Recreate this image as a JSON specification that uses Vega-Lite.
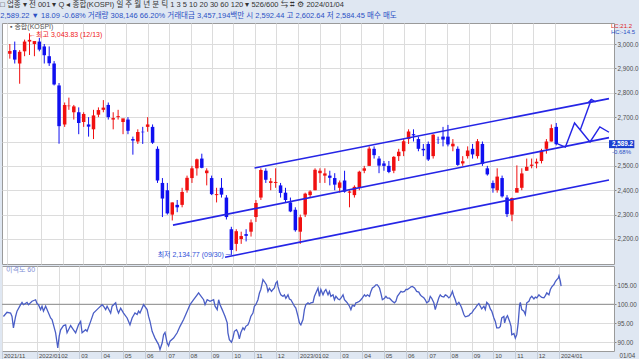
{
  "$schema": "https://vega.github.io/schema/vega-lite/v6.json",
  "background": "#dfe7f2",
  "padding": {"left": 0, "top": 1, "right": 0, "bottom": 0},
  "spacing": 0,
  "config": {
    "font": "Liberation Sans, 'Noto Sans CJK KR', sans-serif",
    "view": {"stroke": "#9a9a9a", "fill": "white"},
    "axis": {"labelFontSize": 6.3, "labelColor": "#505050", "gridColor": "#dcdcdc", "gridWidth": 1, "domain": false, "ticks": false, "title": null, "labelOverlap": false, "labelSeparation": 0, "labelBound": false, "labelFlush": false, "tickCount": 200}
  },
  "title": {
    "text": "□ 업종 ▾  전 001 ▾  Q ◂ 종합(KOSPI)   일  주  월  년  분  틱   1  3  5  10  20  30  60  120  ▾  526/600     ⇆  ⌗  ⚙  2024/01/04",
    "subtitle": "2,589.22 ▼    18.09   -0.68%  거래량        308,146   66.20%  거래대금     3,457,194백만  시  2,592.44  고  2,602.64  저  2,584.45   매수  매도",
    "anchor": "start",
    "fontSize": 7.5,
    "fontWeight": "normal",
    "color": "#333333",
    "subtitleFontSize": 7.5,
    "subtitleColor": "#2a4fc4",
    "subtitlePadding": 3,
    "offset": 3
  },
  "datasets": {
    "candles": [
      {"date":"2021-11-17","o":2960,"h":3000,"l":2940,"c":2971},
      {"date":"2021-11-24","o":2975,"h":3010,"l":2920,"c":2936},
      {"date":"2021-12-01","o":2920,"h":2975,"l":2837,"c":2968},
      {"date":"2021-12-08","o":2970,"h":3018,"l":2950,"c":3010},
      {"date":"2021-12-15","o":3010,"h":3043.83,"l":2955,"c":3017},
      {"date":"2021-12-22","o":3000,"h":3010,"l":2950,"c":3012},
      {"date":"2021-12-29","o":3010,"h":3025,"l":2970,"c":2977},
      {"date":"2022-01-05","o":2990,"h":3000,"l":2920,"c":2954},
      {"date":"2022-01-12","o":2950,"h":2990,"l":2910,"c":2921},
      {"date":"2022-01-19","o":2920,"h":2930,"l":2830,"c":2834},
      {"date":"2022-01-26","o":2830,"h":2840,"l":2591,"c":2663},
      {"date":"2022-02-03","o":2670,"h":2760,"l":2660,"c":2750},
      {"date":"2022-02-09","o":2745,"h":2780,"l":2730,"c":2747},
      {"date":"2022-02-16","o":2720,"h":2750,"l":2690,"c":2744},
      {"date":"2022-02-23","o":2720,"h":2740,"l":2630,"c":2676},
      {"date":"2022-03-02","o":2680,"h":2720,"l":2660,"c":2713},
      {"date":"2022-03-09","o":2670,"h":2700,"l":2620,"c":2661},
      {"date":"2022-03-16","o":2650,"h":2730,"l":2610,"c":2707},
      {"date":"2022-03-23","o":2710,"h":2740,"l":2700,"c":2729},
      {"date":"2022-03-30","o":2730,"h":2770,"l":2720,"c":2739},
      {"date":"2022-04-06","o":2750,"h":2760,"l":2690,"c":2700},
      {"date":"2022-04-13","o":2690,"h":2720,"l":2650,"c":2696},
      {"date":"2022-04-20","o":2700,"h":2730,"l":2690,"c":2704},
      {"date":"2022-04-27","o":2680,"h":2690,"l":2630,"c":2695},
      {"date":"2022-05-04","o":2690,"h":2700,"l":2630,"c":2644},
      {"date":"2022-05-11","o":2610,"h":2620,"l":2546,"c":2604},
      {"date":"2022-05-18","o":2600,"h":2650,"l":2590,"c":2639},
      {"date":"2022-05-25","o":2640,"h":2660,"l":2590,"c":2638},
      {"date":"2022-06-01","o":2660,"h":2700,"l":2640,"c":2670},
      {"date":"2022-06-08","o":2660,"h":2670,"l":2590,"c":2595},
      {"date":"2022-06-15","o":2570,"h":2580,"l":2430,"c":2440},
      {"date":"2022-06-22","o":2430,"h":2450,"l":2290,"c":2366},
      {"date":"2022-06-29","o":2400,"h":2430,"l":2300,"c":2305},
      {"date":"2022-07-06","o":2300,"h":2350,"l":2276,"c":2350},
      {"date":"2022-07-13","o":2340,"h":2360,"l":2310,"c":2330},
      {"date":"2022-07-20","o":2340,"h":2410,"l":2330,"c":2393},
      {"date":"2022-07-27","o":2400,"h":2460,"l":2390,"c":2451},
      {"date":"2022-08-03","o":2450,"h":2500,"l":2430,"c":2490},
      {"date":"2022-08-10","o":2490,"h":2530,"l":2460,"c":2527},
      {"date":"2022-08-17","o":2530,"h":2550,"l":2490,"c":2492},
      {"date":"2022-08-24","o":2470,"h":2490,"l":2420,"c":2481},
      {"date":"2022-08-31","o":2450,"h":2460,"l":2380,"c":2384},
      {"date":"2022-09-07","o":2380,"h":2410,"l":2350,"c":2384},
      {"date":"2022-09-14","o":2410,"h":2450,"l":2370,"c":2382},
      {"date":"2022-09-21","o":2370,"h":2380,"l":2280,"c":2290},
      {"date":"2022-09-28","o":2240,"h":2250,"l":2134.77,"c":2155},
      {"date":"2022-10-05","o":2180,"h":2240,"l":2150,"c":2232},
      {"date":"2022-10-12","o":2200,"h":2230,"l":2180,"c":2212},
      {"date":"2022-10-19","o":2220,"h":2240,"l":2190,"c":2213},
      {"date":"2022-10-26","o":2230,"h":2280,"l":2210,"c":2268},
      {"date":"2022-11-02","o":2290,"h":2360,"l":2270,"c":2348},
      {"date":"2022-11-09","o":2370,"h":2490,"l":2360,"c":2483},
      {"date":"2022-11-16","o":2480,"h":2490,"l":2430,"c":2443},
      {"date":"2022-11-23","o":2430,"h":2450,"l":2400,"c":2437},
      {"date":"2022-11-30","o":2430,"h":2490,"l":2410,"c":2434},
      {"date":"2022-12-07","o":2420,"h":2430,"l":2370,"c":2389},
      {"date":"2022-12-14","o":2390,"h":2410,"l":2350,"c":2360},
      {"date":"2022-12-21","o":2350,"h":2370,"l":2310,"c":2313},
      {"date":"2022-12-28","o":2320,"h":2330,"l":2230,"c":2236},
      {"date":"2023-01-04","o":2230,"h":2300,"l":2180,"c":2289},
      {"date":"2023-01-11","o":2300,"h":2390,"l":2290,"c":2386},
      {"date":"2023-01-18","o":2380,"h":2400,"l":2370,"c":2395},
      {"date":"2023-01-25","o":2400,"h":2490,"l":2400,"c":2484},
      {"date":"2023-02-01","o":2470,"h":2490,"l":2430,"c":2480},
      {"date":"2023-02-08","o":2460,"h":2490,"l":2430,"c":2469},
      {"date":"2023-02-15","o":2460,"h":2480,"l":2420,"c":2451},
      {"date":"2023-02-22","o":2450,"h":2470,"l":2400,"c":2423},
      {"date":"2023-03-01","o":2410,"h":2440,"l":2390,"c":2432},
      {"date":"2023-03-08","o":2440,"h":2480,"l":2390,"c":2394},
      {"date":"2023-03-15","o":2390,"h":2400,"l":2330,"c":2395},
      {"date":"2023-03-22","o":2380,"h":2420,"l":2370,"c":2414},
      {"date":"2023-03-29","o":2410,"h":2480,"l":2400,"c":2476},
      {"date":"2023-04-05","o":2480,"h":2500,"l":2470,"c":2490},
      {"date":"2023-04-12","o":2500,"h":2580,"l":2500,"c":2571},
      {"date":"2023-04-19","o":2570,"h":2580,"l":2530,"c":2544},
      {"date":"2023-04-26","o":2530,"h":2540,"l":2470,"c":2501},
      {"date":"2023-05-03","o":2510,"h":2520,"l":2480,"c":2500},
      {"date":"2023-05-10","o":2500,"h":2520,"l":2470,"c":2475},
      {"date":"2023-05-17","o":2480,"h":2540,"l":2470,"c":2537},
      {"date":"2023-05-24","o":2540,"h":2570,"l":2520,"c":2558},
      {"date":"2023-05-31","o":2560,"h":2610,"l":2540,"c":2601},
      {"date":"2023-06-07","o":2610,"h":2650,"l":2590,"c":2641},
      {"date":"2023-06-14","o":2630,"h":2650,"l":2600,"c":2625},
      {"date":"2023-06-21","o":2610,"h":2620,"l":2560,"c":2570},
      {"date":"2023-06-28","o":2570,"h":2590,"l":2540,"c":2564},
      {"date":"2023-07-05","o":2590,"h":2600,"l":2520,"c":2526},
      {"date":"2023-07-12","o":2540,"h":2630,"l":2530,"c":2628},
      {"date":"2023-07-19","o":2610,"h":2620,"l":2590,"c":2609},
      {"date":"2023-07-26","o":2620,"h":2660,"l":2580,"c":2608},
      {"date":"2023-08-02","o":2620,"h":2668,"l":2580,"c":2588},
      {"date":"2023-08-09","o":2580,"h":2610,"l":2560,"c":2591},
      {"date":"2023-08-16","o":2570,"h":2580,"l":2500,"c":2504},
      {"date":"2023-08-23","o":2510,"h":2540,"l":2500,"c":2519},
      {"date":"2023-08-30","o":2540,"h":2580,"l":2530,"c":2563},
      {"date":"2023-09-06","o":2570,"h":2590,"l":2530,"c":2547},
      {"date":"2023-09-13","o":2540,"h":2610,"l":2530,"c":2601},
      {"date":"2023-09-20","o":2590,"h":2600,"l":2500,"c":2508},
      {"date":"2023-09-27","o":2490,"h":2500,"l":2460,"c":2465},
      {"date":"2023-10-05","o":2430,"h":2440,"l":2390,"c":2408},
      {"date":"2023-10-11","o":2400,"h":2490,"l":2390,"c":2456},
      {"date":"2023-10-18","o":2450,"h":2460,"l":2370,"c":2375},
      {"date":"2023-10-25","o":2370,"h":2380,"l":2290,"c":2302},
      {"date":"2023-11-01","o":2300,"h":2370,"l":2273,"c":2368},
      {"date":"2023-11-08","o":2390,"h":2502,"l":2400,"c":2409},
      {"date":"2023-11-15","o":2410,"h":2490,"l":2400,"c":2469},
      {"date":"2023-11-22","o":2480,"h":2530,"l":2480,"c":2496},
      {"date":"2023-11-29","o":2500,"h":2530,"l":2490,"c":2505},
      {"date":"2023-12-06","o":2510,"h":2530,"l":2490,"c":2517},
      {"date":"2023-12-13","o":2520,"h":2570,"l":2510,"c":2563},
      {"date":"2023-12-20","o":2570,"h":2610,"l":2550,"c":2600},
      {"date":"2023-12-27","o":2600,"h":2670,"l":2600,"c":2655},
      {"date":"2024-01-03","o":2660,"h":2676,"l":2584,"c":2589}
    ],
    "channels": [
      {"id":"upper","date":"2022-10-31","price":2491},
      {"id":"upper","date":"2024-03-18","price":2776},
      {"id":"middle","date":"2022-07-07","price":2257},
      {"id":"middle","date":"2024-03-18","price":2616},
      {"id":"lower","date":"2022-09-19","price":2125},
      {"id":"lower","date":"2024-03-18","price":2442}
    ],
    "projection": [
      {"id":"a","date":"2024-01-05","price":2590},
      {"id":"a","date":"2024-01-16","price":2577},
      {"id":"a","date":"2024-01-29","price":2676},
      {"id":"a","date":"2024-02-20","price":2598},
      {"id":"a","date":"2024-03-05","price":2660},
      {"id":"a","date":"2024-03-18","price":2638},
      {"id":"b","date":"2024-02-06","price":2646},
      {"id":"b","date":"2024-02-22","price":2773},
      {"id":"c","date":"2024-02-17","price":2758},
      {"id":"c","date":"2024-02-22","price":2773},
      {"id":"c","date":"2024-02-28","price":2762}
    ],
    "ind": [
      {"date":"2021-11-15","v":96.8},{"date":"2021-11-20","v":97.9},{"date":"2021-11-25","v":97.7},{"date":"2021-11-27","v":96.8},
      {"date":"2021-11-29","v":93.8},{"date":"2021-12-02","v":96.8},{"date":"2021-12-04","v":98.2},{"date":"2021-12-09","v":99.9},
      {"date":"2021-12-11","v":100.5},{"date":"2021-12-13","v":99.9},{"date":"2021-12-18","v":100.5},{"date":"2021-12-20","v":99.9},
      {"date":"2021-12-25","v":100.8},{"date":"2021-12-30","v":101.2},{"date":"2022-01-01","v":100.2},{"date":"2022-01-03","v":99.9},
      {"date":"2022-01-06","v":98.6},{"date":"2022-01-08","v":99.5},{"date":"2022-01-10","v":98.2},{"date":"2022-01-13","v":99.5},
      {"date":"2022-01-15","v":98.6},{"date":"2022-01-20","v":96.4},{"date":"2022-01-22","v":96.0},{"date":"2022-01-24","v":94.6},
      {"date":"2022-01-27","v":92.5},{"date":"2022-01-30","v":88.5},{"date":"2022-02-01","v":91.6},{"date":"2022-02-03","v":93.3},
      {"date":"2022-02-07","v":94.4},{"date":"2022-02-10","v":94.6},{"date":"2022-02-12","v":92.5},{"date":"2022-02-17","v":94.4},
      {"date":"2022-02-21","v":93.3},{"date":"2022-02-24","v":92.5},{"date":"2022-02-28","v":94.6},{"date":"2022-03-03","v":95.5},
      {"date":"2022-03-05","v":92.5},{"date":"2022-03-10","v":93.3},{"date":"2022-03-12","v":92.9},{"date":"2022-03-17","v":95.5},
      {"date":"2022-03-21","v":97.7},{"date":"2022-03-28","v":99.0},{"date":"2022-04-02","v":99.9},{"date":"2022-04-04","v":99.5},
      {"date":"2022-04-07","v":98.6},{"date":"2022-04-09","v":99.5},{"date":"2022-04-14","v":97.7},{"date":"2022-04-16","v":99.5},
      {"date":"2022-04-21","v":100.4},{"date":"2022-04-23","v":98.6},{"date":"2022-04-25","v":97.7},{"date":"2022-04-28","v":99.0},
      {"date":"2022-05-02","v":97.7},{"date":"2022-05-07","v":96.4},{"date":"2022-05-11","v":94.6},{"date":"2022-05-14","v":96.4},
      {"date":"2022-05-18","v":97.7},{"date":"2022-05-21","v":97.3},{"date":"2022-05-23","v":98.2},{"date":"2022-05-25","v":97.7},
      {"date":"2022-05-30","v":99.9},{"date":"2022-06-04","v":98.6},{"date":"2022-06-06","v":96.8},{"date":"2022-06-08","v":95.5},
      {"date":"2022-06-11","v":92.9},{"date":"2022-06-13","v":92.0},{"date":"2022-06-15","v":91.1},{"date":"2022-06-20","v":89.4},
      {"date":"2022-06-22","v":88.1},{"date":"2022-06-25","v":89.8},{"date":"2022-06-27","v":92.0},{"date":"2022-06-29","v":92.6},
      {"date":"2022-07-02","v":89.8},{"date":"2022-07-04","v":89.1},{"date":"2022-07-06","v":90.3},{"date":"2022-07-11","v":91.1},
      {"date":"2022-07-16","v":92.5},{"date":"2022-07-20","v":94.2},{"date":"2022-07-25","v":96.0},{"date":"2022-07-30","v":98.2},
      {"date":"2022-08-03","v":99.9},{"date":"2022-08-08","v":101.2},{"date":"2022-08-13","v":102.5},{"date":"2022-08-15","v":103.0},
      {"date":"2022-08-17","v":102.5},{"date":"2022-08-22","v":101.2},{"date":"2022-08-24","v":99.9},{"date":"2022-08-27","v":101.2},
      {"date":"2022-08-31","v":100.8},{"date":"2022-09-05","v":101.2},{"date":"2022-09-07","v":99.5},{"date":"2022-09-10","v":98.6},
      {"date":"2022-09-12","v":101.2},{"date":"2022-09-14","v":99.9},{"date":"2022-09-17","v":98.6},{"date":"2022-09-19","v":97.7},
      {"date":"2022-09-21","v":96.8},{"date":"2022-09-24","v":95.1},{"date":"2022-09-25","v":92.5},{"date":"2022-09-27","v":90.7},
      {"date":"2022-09-30","v":90.0},{"date":"2022-10-02","v":91.1},{"date":"2022-10-04","v":92.9},{"date":"2022-10-07","v":93.3},
      {"date":"2022-10-09","v":92.5},{"date":"2022-10-11","v":90.9},{"date":"2022-10-13","v":92.5},{"date":"2022-10-16","v":93.8},
      {"date":"2022-10-18","v":93.3},{"date":"2022-10-20","v":94.2},{"date":"2022-10-23","v":94.6},{"date":"2022-10-25","v":95.5},
      {"date":"2022-10-27","v":96.8},{"date":"2022-10-30","v":97.7},{"date":"2022-11-01","v":99.5},{"date":"2022-11-03","v":99.9},
      {"date":"2022-11-06","v":101.2},{"date":"2022-11-08","v":102.9},{"date":"2022-11-10","v":103.9},{"date":"2022-11-12","v":105.6},
      {"date":"2022-11-13","v":106.5},{"date":"2022-11-15","v":106.0},{"date":"2022-11-18","v":105.1},{"date":"2022-11-20","v":103.4},
      {"date":"2022-11-22","v":104.2},{"date":"2022-11-25","v":103.4},{"date":"2022-11-27","v":103.9},{"date":"2022-11-29","v":104.3},
      {"date":"2022-12-01","v":105.6},{"date":"2022-12-03","v":106.0},{"date":"2022-12-04","v":104.7},{"date":"2022-12-06","v":103.4},
      {"date":"2022-12-08","v":102.5},{"date":"2022-12-11","v":102.1},{"date":"2022-12-13","v":102.5},{"date":"2022-12-15","v":101.6},
      {"date":"2022-12-18","v":102.5},{"date":"2022-12-20","v":101.4},{"date":"2022-12-22","v":101.2},{"date":"2022-12-25","v":100.2},
      {"date":"2022-12-27","v":99.5},{"date":"2022-12-29","v":99.0},{"date":"2023-01-01","v":96.8},{"date":"2023-01-03","v":95.1},
      {"date":"2023-01-05","v":94.6},{"date":"2023-01-08","v":96.0},{"date":"2023-01-10","v":98.6},{"date":"2023-01-12","v":99.9},
      {"date":"2023-01-15","v":100.4},{"date":"2023-01-17","v":100.1},{"date":"2023-01-19","v":100.4},{"date":"2023-01-22","v":100.5},
      {"date":"2023-01-24","v":102.1},{"date":"2023-01-26","v":103.0},{"date":"2023-01-29","v":104.3},{"date":"2023-01-31","v":102.1},
      {"date":"2023-02-02","v":103.9},{"date":"2023-02-05","v":102.5},{"date":"2023-02-07","v":103.4},{"date":"2023-02-09","v":103.9},
      {"date":"2023-02-12","v":102.5},{"date":"2023-02-14","v":103.4},{"date":"2023-02-16","v":102.1},{"date":"2023-02-19","v":102.5},
      {"date":"2023-02-21","v":101.2},{"date":"2023-02-23","v":102.1},{"date":"2023-02-26","v":101.4},{"date":"2023-02-28","v":101.2},
      {"date":"2023-03-02","v":101.6},{"date":"2023-03-05","v":102.5},{"date":"2023-03-07","v":101.2},{"date":"2023-03-09","v":100.8},
      {"date":"2023-03-11","v":100.4},{"date":"2023-03-14","v":99.5},{"date":"2023-03-16","v":98.6},{"date":"2023-03-18","v":99.7},
      {"date":"2023-03-21","v":99.5},{"date":"2023-03-23","v":100.4},{"date":"2023-03-25","v":100.5},{"date":"2023-03-28","v":100.8},
      {"date":"2023-03-30","v":101.2},{"date":"2023-04-01","v":101.7},{"date":"2023-04-04","v":102.5},{"date":"2023-04-06","v":102.1},
      {"date":"2023-04-08","v":102.5},{"date":"2023-04-11","v":102.1},{"date":"2023-04-13","v":103.4},{"date":"2023-04-15","v":104.3},
      {"date":"2023-04-18","v":104.7},{"date":"2023-04-20","v":105.1},{"date":"2023-04-22","v":105.1},{"date":"2023-04-25","v":104.3},
      {"date":"2023-04-27","v":102.9},{"date":"2023-04-29","v":101.2},{"date":"2023-05-02","v":101.6},{"date":"2023-05-04","v":102.1},
      {"date":"2023-05-06","v":101.6},{"date":"2023-05-09","v":101.6},{"date":"2023-05-11","v":101.2},{"date":"2023-05-13","v":100.8},
      {"date":"2023-05-16","v":100.4},{"date":"2023-05-18","v":100.8},{"date":"2023-05-20","v":102.1},{"date":"2023-05-23","v":102.9},
      {"date":"2023-05-25","v":103.4},{"date":"2023-05-27","v":103.2},{"date":"2023-05-30","v":103.4},{"date":"2023-06-01","v":103.9},
      {"date":"2023-06-03","v":103.9},{"date":"2023-06-06","v":104.3},{"date":"2023-06-08","v":104.6},{"date":"2023-06-10","v":104.7},
      {"date":"2023-06-13","v":104.3},{"date":"2023-06-16","v":103.4},{"date":"2023-06-19","v":103.2},{"date":"2023-06-21","v":102.5},
      {"date":"2023-06-23","v":102.1},{"date":"2023-06-26","v":101.7},{"date":"2023-06-28","v":101.2},{"date":"2023-06-30","v":100.4},
      {"date":"2023-07-03","v":100.8},{"date":"2023-07-05","v":102.1},{"date":"2023-07-07","v":101.6},{"date":"2023-07-10","v":100.4},
      {"date":"2023-07-12","v":98.6},{"date":"2023-07-14","v":99.9},{"date":"2023-07-17","v":101.7},{"date":"2023-07-19","v":102.5},
      {"date":"2023-07-21","v":102.1},{"date":"2023-07-24","v":101.9},{"date":"2023-07-26","v":102.5},{"date":"2023-07-28","v":102.3},
      {"date":"2023-07-31","v":101.7},{"date":"2023-08-02","v":102.1},{"date":"2023-08-04","v":102.9},{"date":"2023-08-05","v":103.4},
      {"date":"2023-08-07","v":102.1},{"date":"2023-08-09","v":101.2},{"date":"2023-08-11","v":99.9},{"date":"2023-08-14","v":100.5},
      {"date":"2023-08-16","v":99.9},{"date":"2023-08-18","v":99.0},{"date":"2023-08-21","v":97.3},{"date":"2023-08-23","v":96.7},
      {"date":"2023-08-25","v":96.8},{"date":"2023-08-28","v":97.0},{"date":"2023-08-30","v":97.5},{"date":"2023-09-01","v":97.7},
      {"date":"2023-09-04","v":98.6},{"date":"2023-09-06","v":99.0},{"date":"2023-09-08","v":99.6},{"date":"2023-09-11","v":100.2},
      {"date":"2023-09-13","v":99.5},{"date":"2023-09-15","v":98.8},{"date":"2023-09-18","v":99.5},{"date":"2023-09-20","v":98.6},
      {"date":"2023-09-22","v":100.5},{"date":"2023-09-25","v":99.9},{"date":"2023-09-27","v":98.8},{"date":"2023-09-29","v":98.2},
      {"date":"2023-10-02","v":96.4},{"date":"2023-10-04","v":95.5},{"date":"2023-10-06","v":93.8},{"date":"2023-10-09","v":93.8},
      {"date":"2023-10-11","v":94.2},{"date":"2023-10-13","v":96.4},{"date":"2023-10-16","v":96.8},{"date":"2023-10-17","v":95.1},
      {"date":"2023-10-19","v":96.4},{"date":"2023-10-21","v":97.0},{"date":"2023-10-24","v":95.5},{"date":"2023-10-26","v":94.2},
      {"date":"2023-10-27","v":92.0},{"date":"2023-10-30","v":92.3},{"date":"2023-11-01","v":91.1},{"date":"2023-11-03","v":92.0},
      {"date":"2023-11-05","v":95.1},{"date":"2023-11-07","v":99.9},{"date":"2023-11-08","v":100.5},{"date":"2023-11-10","v":98.6},
      {"date":"2023-11-13","v":98.2},{"date":"2023-11-15","v":97.3},{"date":"2023-11-17","v":100.4},{"date":"2023-11-20","v":100.8},
      {"date":"2023-11-22","v":101.7},{"date":"2023-11-24","v":102.1},{"date":"2023-11-27","v":101.4},{"date":"2023-11-29","v":101.9},
      {"date":"2023-12-01","v":101.7},{"date":"2023-12-04","v":102.5},{"date":"2023-12-06","v":102.1},{"date":"2023-12-08","v":101.8},
      {"date":"2023-12-11","v":101.7},{"date":"2023-12-13","v":102.3},{"date":"2023-12-15","v":103.0},{"date":"2023-12-18","v":102.5},
      {"date":"2023-12-20","v":103.9},{"date":"2023-12-22","v":104.6},{"date":"2023-12-25","v":105.2},{"date":"2023-12-27","v":106.0},
      {"date":"2023-12-29","v":106.5},{"date":"2023-12-31","v":106.9},{"date":"2024-01-01","v":107.5},{"date":"2024-01-03","v":106.0},
      {"date":"2024-01-04","v":104.8}
    ]
  },
  "vconcat": [
    {
      "width": 612,
      "height": 241,
      "layer": [
        {
          "data": {"name": "candles"},
          "mark": {"type": "rule", "strokeWidth": 1},
          "encoding": {
            "x": {"field": "date", "type": "temporal",
                  "scale": {"type": "utc", "domain": [{"year": 2021, "month": 11, "date": 13, "utc": true}, {"year": 2024, "month": 3, "date": 18, "utc": true}]},
                  "axis": {"labels": false, "grid": true, "ticks": false, "domain": false, "tickCount": 200,
                           "values": [{"year":2021,"month":11,"date":13,"utc":true},{"year":2022,"month":1,"date":1,"utc":true},{"year":2022,"month":2,"date":1,"utc":true},{"year":2022,"month":3,"date":1,"utc":true},{"year":2022,"month":4,"date":1,"utc":true},{"year":2022,"month":5,"date":1,"utc":true},{"year":2022,"month":6,"date":1,"utc":true},{"year":2022,"month":7,"date":1,"utc":true},{"year":2022,"month":8,"date":1,"utc":true},{"year":2022,"month":9,"date":1,"utc":true},{"year":2022,"month":10,"date":1,"utc":true},{"year":2022,"month":11,"date":1,"utc":true},{"year":2022,"month":12,"date":1,"utc":true},{"year":2023,"month":1,"date":1,"utc":true},{"year":2023,"month":2,"date":1,"utc":true},{"year":2023,"month":3,"date":1,"utc":true},{"year":2023,"month":4,"date":1,"utc":true},{"year":2023,"month":5,"date":1,"utc":true},{"year":2023,"month":6,"date":1,"utc":true},{"year":2023,"month":7,"date":1,"utc":true},{"year":2023,"month":8,"date":1,"utc":true},{"year":2023,"month":9,"date":1,"utc":true},{"year":2023,"month":10,"date":1,"utc":true},{"year":2023,"month":11,"date":1,"utc":true},{"year":2023,"month":12,"date":1,"utc":true},{"year":2024,"month":1,"date":1,"utc":true}]}},
            "y": {"field": "l", "type": "quantitative",
                  "scale": {"domain": [2097.4, 3086.2], "nice": false, "zero": false},
                  "axis": {"orient": "right", "values": [2200, 2300, 2400, 2500, 2600, 2700, 2800, 2900, 3000], "tickCount": 200, "labelExpr": "datum.value == 2600 ? '' : format(datum.value, ',.1f')", "grid": true, "ticks": true, "tickSize": 2, "tickColor": "#888888", "labelPadding": 1, "labelOverlap": false}},
            "y2": {"field": "h"},
            "color": {"condition": {"test": "datum.c >= datum.o", "value": "#f01010"}, "value": "#1010f0"}
          }
        },
        {
          "data": {"name": "candles"},
          "mark": {"type": "bar", "size": 3.5},
          "encoding": {
            "x": {"field": "date", "type": "temporal"},
            "y": {"field": "o", "type": "quantitative"},
            "y2": {"field": "c"},
            "color": {"condition": {"test": "datum.c >= datum.o", "value": "#f01010"}, "value": "#1010f0"}
          }
        },
        {
          "data": {"name": "channels"},
          "mark": {"type": "line", "color": "#2525e6", "strokeWidth": 1.6},
          "encoding": {
            "x": {"field": "date", "type": "temporal"},
            "y": {"field": "price", "type": "quantitative"},
            "detail": {"field": "id"}
          }
        },
        {
          "data": {"name": "projection"},
          "mark": {"type": "line", "color": "#2525e6", "strokeWidth": 1.4},
          "encoding": {
            "x": {"field": "date", "type": "temporal"},
            "y": {"field": "price", "type": "quantitative"},
            "detail": {"field": "id"}
          }
        },
        {
          "data": {"values": [{"date": "2021-12-13", "price": 3043.83, "label": "←최고 3,043.83 (12/13)"}]},
          "mark": {"type": "text", "align": "left", "baseline": "middle", "dx": 1, "dy": 2, "fontSize": 7, "color": "#f02020"},
          "encoding": {
            "x": {"field": "date", "type": "temporal"},
            "y": {"field": "price", "type": "quantitative"},
            "text": {"field": "label"}
          }
        },
        {
          "data": {"values": [{"date": "2022-09-30", "price": 2134.77, "label": "최저 2,134.77 (09/30) ─"}]},
          "mark": {"type": "text", "align": "right", "baseline": "middle", "dx": -2, "dy": 0, "fontSize": 7, "color": "#3050d8"},
          "encoding": {
            "x": {"field": "date", "type": "temporal"},
            "y": {"field": "price", "type": "quantitative"},
            "text": {"field": "label"}
          }
        },
        {
          "data": {"values": [{"label": "▪ 종합(KOSPI)"}]},
          "mark": {"type": "text", "align": "left", "baseline": "middle", "dx": 3, "fontSize": 7, "color": "#555555"},
          "encoding": {
            "x": {"datum": {"year": 2021, "month": 11, "date": 13, "utc": true}, "type": "temporal"},
            "y": {"datum": 3068, "type": "quantitative"},
            "text": {"field": "label"}
          }
        },
        {
          "data": {"values": [{"price": 2589.22}]},
          "mark": {"type": "rect", "color": "#1a3fd0", "height": 8},
          "encoding": {
            "x": {"datum": {"year": 2024, "month": 3, "date": 18, "utc": true}, "type": "temporal"},
            "x2": {"datum": {"year": 2024, "month": 4, "date": 23, "utc": true}},
            "y": {"field": "price", "type": "quantitative"}
          }
        },
        {
          "data": {"values": [{"price": 2589.22, "label": "2,589.2", "chg": "-0.68%"}]},
          "layer": [
            {"mark": {"type": "text", "align": "left", "baseline": "middle", "dx": 3, "fontSize": 6.3, "color": "white", "fontWeight": "bold"},
             "encoding": {"x": {"datum": {"year": 2024, "month": 3, "date": 18, "utc": true}, "type": "temporal"}, "y": {"field": "price", "type": "quantitative"}, "text": {"field": "label"}}},
            {"mark": {"type": "text", "align": "left", "baseline": "middle", "dx": 3, "dy": 8, "fontSize": 6, "color": "#2a4fc4"},
             "encoding": {"x": {"datum": {"year": 2024, "month": 3, "date": 18, "utc": true}, "type": "temporal"}, "y": {"field": "price", "type": "quantitative"}, "text": {"field": "chg"}}}
          ]
        },
        {
          "data": {"values": [{"lc": "LC:21.2", "hc": "HC:-14.5"}]},
          "layer": [
            {"mark": {"type": "text", "align": "left", "baseline": "middle", "dx": 2, "fontSize": 6, "color": "#e02020"},
             "encoding": {"x": {"datum": {"year": 2024, "month": 3, "date": 18, "utc": true}, "type": "temporal"}, "y": {"datum": 3075, "type": "quantitative"}, "text": {"field": "lc"}}},
            {"mark": {"type": "text", "align": "left", "baseline": "middle", "dx": 2, "fontSize": 6, "color": "#2a4fc4"},
             "encoding": {"x": {"datum": {"year": 2024, "month": 3, "date": 18, "utc": true}, "type": "temporal"}, "y": {"datum": 3050, "type": "quantitative"}, "text": {"field": "hc"}}}
          ]
        }
      ]
    },
    {
      "width": 612,
      "height": 85,
      "layer": [
        {
          "data": {"values": [{}]},
          "mark": {"type": "rule", "color": "#8c8c8c", "strokeWidth": 1},
          "encoding": {"y": {"datum": 100, "type": "quantitative"}}
        },
        {
          "data": {"name": "ind"},
          "mark": {"type": "line", "color": "#4a5ec6", "strokeWidth": 1.3},
          "encoding": {
            "x": {"field": "date", "type": "temporal",
                  "scale": {"type": "utc", "domain": [{"year": 2021, "month": 11, "date": 13, "utc": true}, {"year": 2024, "month": 3, "date": 18, "utc": true}]},
                  "axis": {"orient": "bottom", "grid": true, "ticks": true, "tickSize": 8, "tickColor": "#c3ccd9", "domain": false, "tickCount": 200,
                           "labelAlign": "left", "labelBaseline": "top", "labelPadding": -7, "labelOffset": 1.5, "labelFontSize": 6, "labelOverlap": false, "labelColor": "#4a4a4a",
                           "labelExpr": "(utcmonth(datum.value) == 0 || utcyear(datum.value) == 2021) ? utcFormat(datum.value, '%Y/%m') : utcFormat(datum.value, '%m')",
                           "title": "01/04", "titleX": 617, "titleY": 1, "titleAlign": "left", "titleBaseline": "top", "titleFontSize": 6.3, "titleFontWeight": "normal", "titleColor": "#4a4a4a",
                           "values": [{"year":2021,"month":11,"date":13,"utc":true},{"year":2022,"month":1,"date":1,"utc":true},{"year":2022,"month":2,"date":1,"utc":true},{"year":2022,"month":3,"date":1,"utc":true},{"year":2022,"month":4,"date":1,"utc":true},{"year":2022,"month":5,"date":1,"utc":true},{"year":2022,"month":6,"date":1,"utc":true},{"year":2022,"month":7,"date":1,"utc":true},{"year":2022,"month":8,"date":1,"utc":true},{"year":2022,"month":9,"date":1,"utc":true},{"year":2022,"month":10,"date":1,"utc":true},{"year":2022,"month":11,"date":1,"utc":true},{"year":2022,"month":12,"date":1,"utc":true},{"year":2023,"month":1,"date":1,"utc":true},{"year":2023,"month":2,"date":1,"utc":true},{"year":2023,"month":3,"date":1,"utc":true},{"year":2023,"month":4,"date":1,"utc":true},{"year":2023,"month":5,"date":1,"utc":true},{"year":2023,"month":6,"date":1,"utc":true},{"year":2023,"month":7,"date":1,"utc":true},{"year":2023,"month":8,"date":1,"utc":true},{"year":2023,"month":9,"date":1,"utc":true},{"year":2023,"month":10,"date":1,"utc":true},{"year":2023,"month":11,"date":1,"utc":true},{"year":2023,"month":12,"date":1,"utc":true},{"year":2024,"month":1,"date":1,"utc":true}]}},
            "y": {"field": "v", "type": "quantitative",
                  "scale": {"domain": [87.71, 110.08], "nice": false, "zero": false},
                  "axis": {"orient": "right", "values": [90, 95, 100, 105], "tickCount": 200, "format": ".2f", "grid": true, "ticks": true, "tickSize": 2, "tickColor": "#888888", "labelPadding": 1, "labelOverlap": false}}
          }
        },
        {
          "data": {"values": [{"label": "이격도 60"}]},
          "mark": {"type": "text", "align": "left", "baseline": "middle", "dx": 4, "fontSize": 7, "color": "#7f8fd6"},
          "encoding": {
            "x": {"datum": {"year": 2021, "month": 11, "date": 13, "utc": true}, "type": "temporal"},
            "y": {"datum": 108.9, "type": "quantitative"},
            "text": {"field": "label"}
          }
        }
      ]
    }
  ]
}
